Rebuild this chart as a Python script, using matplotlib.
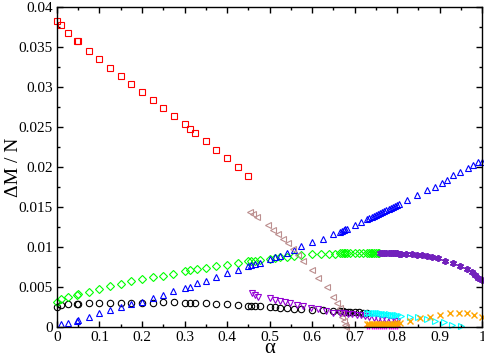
import matplotlib
matplotlib.use("Agg")
import matplotlib.pyplot as plt
from matplotlib.ticker import MultipleLocator, FuncFormatter

# ---- data ----
black_x = [0.0, 0.01, 0.025, 0.048, 0.05, 0.075, 0.1, 0.125, 0.15, 0.175, 0.2, 0.225, 0.25, 0.275, 0.3, 0.3125,
           0.325, 0.35, 0.375, 0.4, 0.425, 0.45, 0.456, 0.466, 0.478, 0.5, 0.513, 0.525, 0.54, 0.557, 0.575, 0.6,
           0.625, 0.65, 0.666, 0.672, 0.678, 0.685, 0.69, 0.7, 0.71, 0.72, 0.73]
black_y = [0.0025, 0.0027, 0.0029, 0.0029, 0.0029, 0.003, 0.003, 0.003, 0.003, 0.003, 0.003, 0.003, 0.0031, 0.0031,
           0.003, 0.003, 0.003, 0.003, 0.0029, 0.0029, 0.0028, 0.0026, 0.0026, 0.0026, 0.0026, 0.0025, 0.0025, 0.0024,
           0.0024, 0.0023, 0.0022, 0.0021, 0.0021, 0.002, 0.002, 0.002, 0.0019, 0.0019, 0.0019, 0.0019, 0.0019,
           0.0018, 0.0018]

red_x = [0.0, 0.01, 0.025, 0.048, 0.05, 0.075, 0.1, 0.125, 0.15, 0.175, 0.2, 0.225, 0.25, 0.275, 0.3, 0.3125,
         0.325, 0.35, 0.375, 0.4, 0.425, 0.45]
red_y = [0.0383, 0.0378, 0.0367, 0.0358, 0.0357, 0.0345, 0.0335, 0.0324, 0.0314, 0.0304, 0.0294, 0.0284, 0.0274,
         0.0264, 0.0254, 0.0248, 0.0242, 0.0232, 0.0221, 0.0211, 0.0200, 0.0189]

green_x = [0.0, 0.01, 0.025, 0.048, 0.05, 0.075, 0.1, 0.125, 0.15, 0.175, 0.2, 0.225, 0.25, 0.273, 0.3, 0.3125,
           0.33, 0.35, 0.375, 0.4, 0.425, 0.45, 0.456, 0.466, 0.478, 0.5, 0.513, 0.525, 0.54, 0.557, 0.575, 0.6,
           0.62, 0.64, 0.655, 0.666, 0.67, 0.674, 0.678, 0.682, 0.69, 0.7, 0.71, 0.72, 0.73, 0.734, 0.738, 0.742,
           0.746, 0.75, 0.754, 0.758]
green_y = [0.0031, 0.0035, 0.0037, 0.004, 0.0041, 0.0044, 0.0048, 0.0051, 0.0054, 0.0057, 0.006, 0.0062, 0.0064,
           0.0066, 0.007, 0.0071, 0.0073, 0.0074, 0.0076, 0.0078, 0.008, 0.0082, 0.0083, 0.0083, 0.0084, 0.0085,
           0.0086, 0.0087, 0.0088, 0.0089, 0.009, 0.0091, 0.0091, 0.0091, 0.0091, 0.0092, 0.0092, 0.0092, 0.0092,
           0.0092, 0.0092, 0.0092, 0.0092, 0.0092, 0.0092, 0.0092, 0.0092, 0.0092, 0.0092, 0.0092, 0.0092, 0.0092]

blue_x = [0.01, 0.025, 0.048, 0.05, 0.075, 0.1, 0.125, 0.15, 0.175, 0.2, 0.225, 0.25, 0.273, 0.3, 0.3125, 0.33,
          0.35, 0.375, 0.4, 0.425, 0.45, 0.456, 0.466, 0.478, 0.5, 0.513, 0.525, 0.54, 0.557, 0.575, 0.6, 0.625,
          0.65, 0.666, 0.67, 0.674, 0.678, 0.682, 0.7, 0.715, 0.73, 0.735, 0.74, 0.745, 0.75, 0.755, 0.76, 0.765,
          0.77, 0.775, 0.78, 0.785, 0.79, 0.795, 0.8, 0.805, 0.823, 0.847, 0.87, 0.889, 0.906, 0.918, 0.932, 0.948,
          0.967, 0.979, 0.99, 1.0]
blue_y = [0.0004, 0.0005, 0.0008, 0.0009, 0.0013, 0.0017, 0.0021, 0.0025, 0.0029, 0.0031, 0.0036, 0.004, 0.0045,
          0.0049, 0.005, 0.0055, 0.0058, 0.0062, 0.0067, 0.0071, 0.0076, 0.0077, 0.0079, 0.008, 0.0085, 0.0087,
          0.0089, 0.0092, 0.0096, 0.0101, 0.0106, 0.011, 0.0116, 0.0119, 0.012, 0.0121, 0.0122, 0.0122, 0.0127,
          0.0131, 0.0135, 0.0136, 0.0137, 0.0139, 0.014, 0.0141, 0.0142, 0.0144, 0.0145, 0.0146, 0.0147, 0.0149,
          0.015, 0.0151, 0.0152, 0.0154, 0.0159, 0.0165, 0.0171, 0.0175, 0.018, 0.0184, 0.019, 0.0194, 0.0199,
          0.0202, 0.0206, 0.0206]

brown_x = [0.454, 0.462, 0.47, 0.497, 0.508, 0.52, 0.532, 0.544, 0.555, 0.567, 0.579, 0.6, 0.614, 0.635, 0.65,
           0.659, 0.665, 0.668, 0.671, 0.674, 0.677, 0.68]
brown_y = [0.0144, 0.0141, 0.0137, 0.0127, 0.0121, 0.0116, 0.011, 0.0105, 0.0097, 0.009, 0.0082, 0.0071, 0.0061,
           0.005, 0.0038, 0.003, 0.0024, 0.0018, 0.0012, 0.0007, 0.0003, 0.0]

violet_x = [0.459, 0.466, 0.473, 0.5, 0.513, 0.525, 0.536, 0.548, 0.564, 0.579, 0.598, 0.615, 0.633, 0.65, 0.666,
            0.675, 0.685, 0.695, 0.705, 0.715, 0.725, 0.735, 0.745, 0.755, 0.765, 0.775, 0.785, 0.795, 0.8]
violet_y = [0.0042, 0.004, 0.0038, 0.0036, 0.0034, 0.0033, 0.0031, 0.003, 0.0028, 0.0026, 0.0024, 0.0022, 0.002,
            0.0018, 0.0017, 0.0017, 0.0016, 0.0016, 0.0015, 0.0015, 0.0014, 0.0012, 0.0011, 0.001, 0.0009, 0.0009,
            0.0008, 0.0008, 0.0007]

cyan_x = [0.73, 0.735, 0.74, 0.745, 0.75, 0.755, 0.76, 0.765, 0.77, 0.775, 0.78, 0.785, 0.79, 0.795, 0.8, 0.81,
          0.83, 0.85, 0.87, 0.89, 0.91, 0.93, 0.95]
cyan_y = [0.0018, 0.0018, 0.0018, 0.0017, 0.0017, 0.0017, 0.0017, 0.0016, 0.0016, 0.0016, 0.0016, 0.0015, 0.0015,
          0.0015, 0.0015, 0.0014, 0.0013, 0.0012, 0.001, 0.0008, 0.0006, 0.0003, 0.0001]

magenta_x = [0.73, 0.735, 0.74, 0.745, 0.75, 0.755, 0.76, 0.765, 0.77, 0.775, 0.78, 0.785, 0.79, 0.795, 0.8]
magenta_y = [0.0001, 0.0001, 0.0001, 0.0001, 0.0001, 0.0001, 0.0001, 0.0001, 0.0001, 0.0001, 0.0001, 0.0001,
             0.0001, 0.0001, 0.0001]

orange_x = [0.73, 0.735, 0.74, 0.745, 0.75, 0.755, 0.76, 0.765, 0.77, 0.775, 0.78, 0.785, 0.79, 0.795, 0.8, 0.807,
            0.83, 0.854, 0.878, 0.9, 0.925, 0.945, 0.965, 0.98, 1.0]
orange_y = [0.0004, 0.0004, 0.0004, 0.0004, 0.0004, 0.0004, 0.0004, 0.0004, 0.0004, 0.0004, 0.0004, 0.0004, 0.0004,
            0.0004, 0.0005, 0.0005, 0.0008, 0.0011, 0.0013, 0.0015, 0.0017, 0.0017, 0.0017, 0.0015, 0.0013]

indigo_x = [0.76, 0.765, 0.77, 0.775, 0.78, 0.785, 0.79, 0.795, 0.8, 0.805, 0.81, 0.822, 0.835, 0.847, 0.858, 0.87,
            0.882, 0.897, 0.913, 0.932, 0.948, 0.964, 0.976, 0.984, 0.991, 1.0]
indigo_y = [0.0092, 0.0092, 0.0092, 0.0092, 0.0092, 0.0092, 0.0092, 0.0092, 0.0092, 0.0091, 0.0091, 0.0091, 0.0091,
            0.009, 0.009, 0.0089, 0.0088, 0.0086, 0.0083, 0.008, 0.0076, 0.0073, 0.0069, 0.0065, 0.0061, 0.0059]

x_ticks = [0, 0.1, 0.2, 0.3, 0.4, 0.5, 0.6, 0.7, 0.8, 0.9, 1]
y_ticks = [0, 0.005, 0.01, 0.015, 0.02, 0.025, 0.03, 0.035, 0.04]

# ---- figure ----
plt.rcParams['font.family'] = ['Liberation Serif', 'DejaVu Serif']
fig = plt.figure(figsize=(4.85, 3.6), dpi=100)
ax = fig.add_axes([0.1175, 0.0917, 0.8765, 0.889])

common = dict(linestyle='none', fillstyle='none', clip_on=False, markeredgewidth=0.8)
ax.plot(black_x, black_y, marker='o', color='black', markersize=4.6, **common)
ax.plot(red_x, red_y, marker='s', color='#ff0000', markersize=4.3, **common)
ax.plot(green_x, green_y, marker='D', color='#00ff00', markersize=3.8, **common)
ax.plot(blue_x, blue_y, marker='^', color='#0000ff', markersize=5, **common)
ax.plot(brown_x, brown_y, marker='<', color='#bc8f8f', markersize=5, **common)
ax.plot(violet_x, violet_y, marker='v', color='#9400d3', markersize=5, **common)
ax.plot(cyan_x, cyan_y, marker='>', color='#00ffff', markersize=5, **common)
ax.plot(magenta_x, magenta_y, marker='+', color='#ff00ff', markersize=5, linestyle='none', clip_on=False,
        markeredgewidth=1.0)
ax.plot(orange_x, orange_y, marker='x', color='#ffa500', markersize=4, linestyle='none', clip_on=False,
        markeredgewidth=1.0)
ax.plot(indigo_x, indigo_y, marker=(6, 2, 0), color='#7221bc', markersize=5, linestyle='none', clip_on=False,
        markeredgewidth=1.3)

ax.set_xlim(0, 1)
ax.set_ylim(0, 0.04)
ax.set_xticks(x_ticks)
ax.set_yticks(y_ticks)
ax.xaxis.set_minor_locator(MultipleLocator(0.05))
ax.yaxis.set_minor_locator(MultipleLocator(0.0025))
fmt = FuncFormatter(lambda v, p: ('%g' % round(v, 6)))
ax.xaxis.set_major_formatter(fmt)
ax.yaxis.set_major_formatter(fmt)
ax.tick_params(which='both', direction='in', top=True, right=True, labelsize=11, width=1, color='black')
ax.tick_params(which='major', length=4.5, pad=3)
ax.tick_params(which='minor', length=2.3)
for s in ax.spines.values():
    s.set_linewidth(1.0)

ax.set_xlabel('α', fontsize=15)
ax.xaxis.label.set_va('center')
ax.xaxis.set_label_coords(0.5, -0.066)
ax.set_ylabel('ΔM / N', fontsize=14)
ax.yaxis.set_label_coords(-0.082, 0.5)

fig.savefig('out.png', dpi=100)
